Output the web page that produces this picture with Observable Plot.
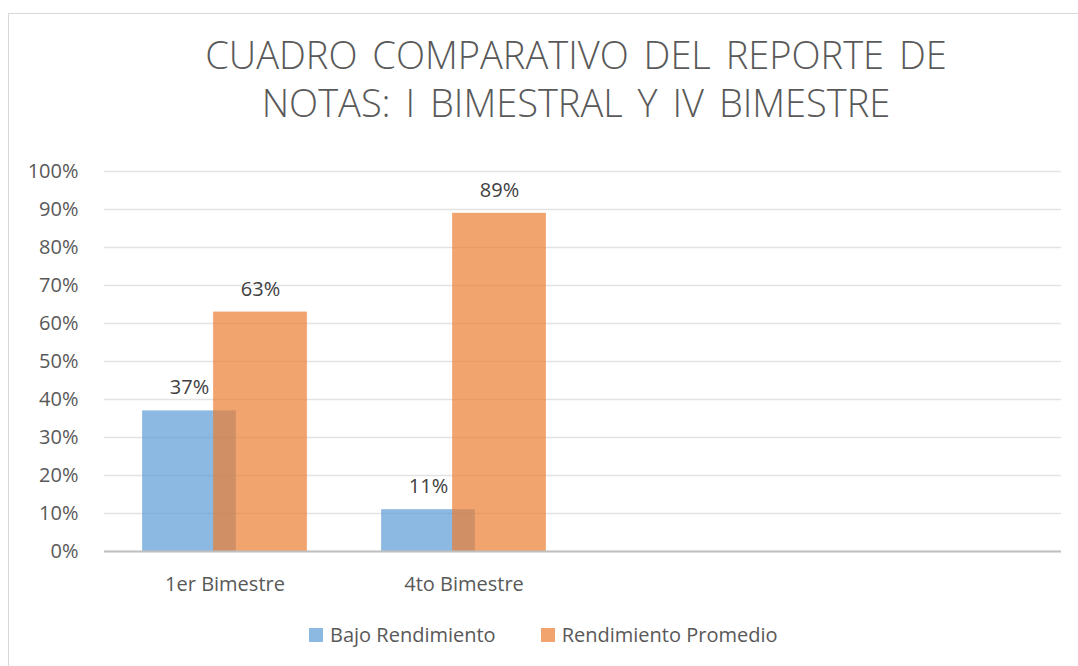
<!DOCTYPE html>
<html>
<head>
<meta charset="utf-8">
<script src="https://cdn.jsdelivr.net/npm/d3@7"></script>
<script src="https://cdn.jsdelivr.net/npm/@observablehq/plot@0.6"></script>
<style>
  html, body { margin: 0; padding: 0; background: #fff; width: 1078px; height: 666px; overflow: hidden; }
  #frame { position: absolute; left: 8px; top: 13px; width: 1090px; height: 680px; border: 1px solid #d9d9d9; box-sizing: border-box; }
  #title { position: absolute; left: 0; top: 30px; width: 1152px; text-align: center; font-family: "Open Sans", sans-serif; font-weight: 300; font-size: 38px; line-height: 48px; color: #595959; word-spacing: 5px; }
  #chart { position: absolute; left: 0; top: 140px; }
  #legend { position: absolute; left: 309px; top: 621px; display: flex; align-items: center; font-family: "Open Sans", sans-serif; font-size: 20px; color: #595959; }
  .item { display: flex; align-items: center; }
  .sw { width: 14px; height: 14px; margin-right: 7px; }
</style>
</head>
<body>
<div id="frame"></div>
<div id="title">CUADRO COMPARATIVO DEL REPORTE DE<br>NOTAS: I BIMESTRAL Y IV BIMESTRE</div>
<div id="chart"></div>
<div id="legend"></div>
<script>
const categories = ["1er Bimestre", "4to Bimestre", " ", "  "];
const bajoRendimiento = [0.37, 0.11];
const rendimientoPromedio = [0.63, 0.89];
const seriesNames = ["Bajo Rendimiento", "Rendimiento Promedio"];
const seriesColors = ["#5B9BD5", "#ED7D31"];
const yTicks = [0, 0.1, 0.2, 0.3, 0.4, 0.5, 0.6, 0.7, 0.8, 0.9, 1.0];

const bajoRows = bajoRendimiento.map((v, i) => ({cat: categories[i], v}));
const promRows = rendimientoPromedio.map((v, i) => ({cat: categories[i], v}));
const pct = d3.format(".0%");

const W = 1078, H = 470, ML = 104, MR = 17;
const band = (W - ML - MR) / categories.length;
const barW = 94, off = 35.5;
const innerIn = band / 2 - off - barW / 2;   // inset on outer side
const outerIn = band - barW - innerIn;

const chart = Plot.plot({
  width: W, height: H,
  marginLeft: ML, marginRight: MR, marginTop: 31, marginBottom: 59,
  style: {fontFamily: "Open Sans, sans-serif", fontSize: "20px", color: "#595959", background: "transparent", overflow: "visible"},
  x: {domain: categories, padding: 0, label: null, tickSize: 0, tickPadding: 25},
  y: {domain: [0, 1], ticks: yTicks, tickFormat: pct, label: null, tickSize: 0, tickPadding: 26},
  marks: [
    Plot.gridY(yTicks, {stroke: "#e3e3e3", strokeOpacity: 1, strokeWidth: 1.5}),
    Plot.barY(bajoRows, {x: "cat", y: "v", fill: seriesColors[0], fillOpacity: 0.7, insetLeft: innerIn, insetRight: outerIn}),
    Plot.barY(promRows, {x: "cat", y: "v", fill: seriesColors[1], fillOpacity: 0.7, insetLeft: outerIn, insetRight: innerIn}),
    Plot.ruleY([0], {stroke: "#bfbfbf", strokeWidth: 2}),
    Plot.text(bajoRows, {x: "cat", y: "v", text: d => pct(d.v), dx: -off, dy: -23, fill: "#404040", fontSize: 20}),
    Plot.text(promRows, {x: "cat", y: "v", text: d => pct(d.v), dx: off, dy: -23, fill: "#404040", fontSize: 20})
  ]
});
document.getElementById("chart").appendChild(chart);

const legend = document.getElementById("legend");
seriesNames.forEach((name, i) => {
  const item = document.createElement("div");
  item.className = "item";
  if (i > 0) item.style.marginLeft = "45px";
  const sw = document.createElement("div");
  sw.className = "sw";
  sw.style.background = seriesColors[i];
  sw.style.opacity = 0.7;
  const t = document.createElement("span");
  t.textContent = name;
  item.appendChild(sw); item.appendChild(t);
  legend.appendChild(item);
});
</script>
</body>
</html>
